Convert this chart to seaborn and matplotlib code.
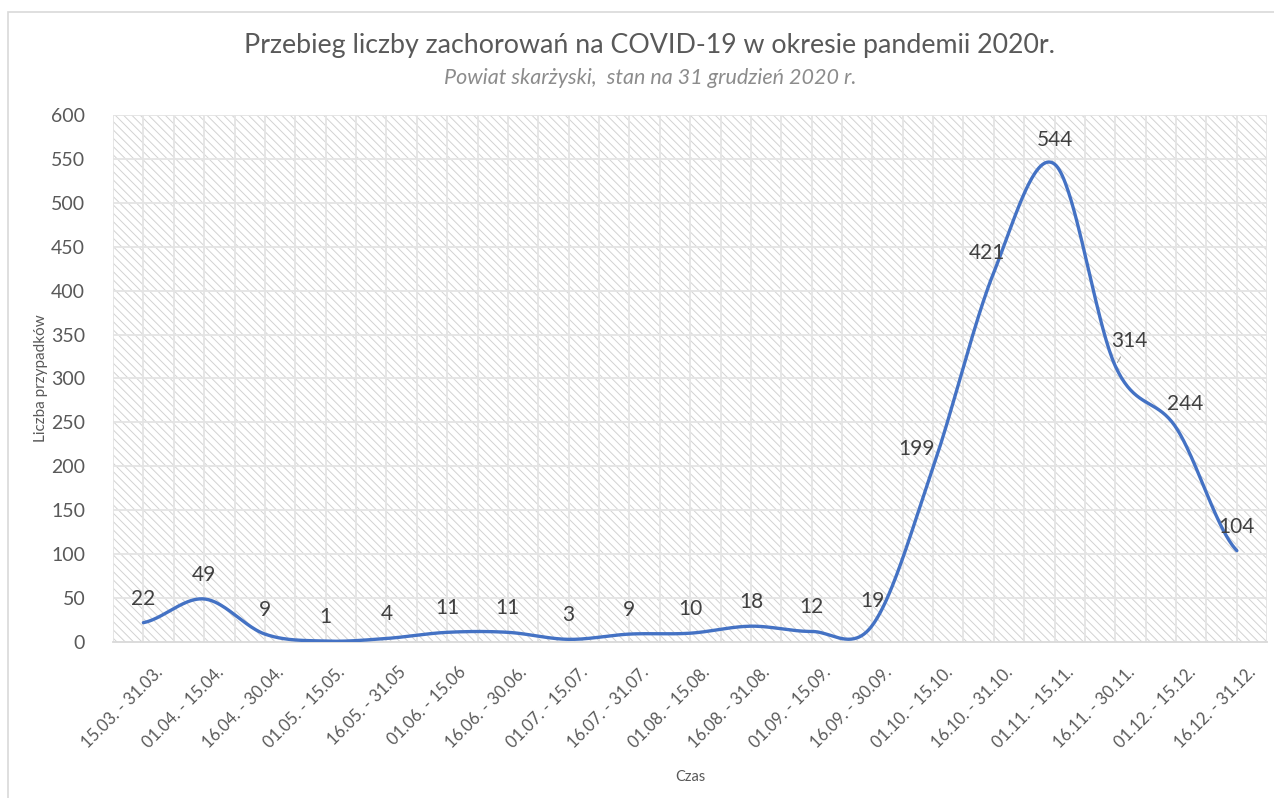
import numpy as np
import pandas as pd
import matplotlib.pyplot as plt
import seaborn as sns
from matplotlib.patches import Rectangle
from matplotlib.transforms import ScaledTranslation

# data
periods = ["15.03. - 31.03.", "01.04. - 15.04.", "16.04. - 30.04.", "01.05. - 15.05.",
           "16.05. - 31.05", "01.06. - 15.06", "16.06. - 30.06.", "01.07. - 15.07.",
           "16.07. - 31.07.", "01.08. - 15.08.", "16.08. - 31.08.", "01.09. - 15.09.",
           "16.09. - 30.09.", "01.10. - 15.10.", "16.10. - 31.10.", "01.11. - 15.11.",
           "16.11. - 30.11.", "01.12. - 15.12.", "16.12. - 31.12."]
cases = [22, 49, 9, 1, 4, 11, 11, 3, 9, 10, 18, 12, 19, 199, 421, 544, 314, 244, 104]
y_ticks = list(range(0, 601, 50))

title = "Przebieg liczby zachorowań na COVID-19 w okresie pandemii 2020r."
subtitle = "Powiat skarżyski,  stan na 31 grudzień 2020 r."

# label nudges (pixels) where the labels were moved by hand in the original
label_shift = {13: (-17, 18), 14: (-7, 19), 16: (14, 25), 17: (9, 24)}


def smooth_curve(vals, steps=40):
    # Catmull-Rom spline, close to Excel's "smoothed line"
    p = np.asarray(vals, dtype=float)
    ext = np.r_[p[0], p, p[-1]]
    xs, ys = [], []
    t = np.linspace(0, 1, steps, endpoint=False)
    for i in range(len(p) - 1):
        p0, p1, p2, p3 = ext[i], ext[i + 1], ext[i + 2], ext[i + 3]
        m1 = (p2 - p0) / 2
        m2 = (p3 - p1) / 2
        h00 = 2 * t**3 - 3 * t**2 + 1
        h10 = t**3 - 2 * t**2 + t
        h01 = -2 * t**3 + 3 * t**2
        h11 = t**3 - t**2
        xs.append(i + t)
        ys.append(h00 * p1 + h10 * m1 + h01 * p2 + h11 * m2)
    xs.append([len(p) - 1])
    ys.append([p[-1]])
    return np.concatenate(xs), np.concatenate(ys)


sns.set_theme(style="white")
plt.rcParams['font.family'] = ['Lato', 'DejaVu Sans']
plt.rcParams['hatch.linewidth'] = 0.7

fig = plt.figure(figsize=(12.74, 7.98), dpi=100)
ax = fig.add_axes([0.0887, 0.1955, 0.906, 0.6604])

# outer chart border (only top and left are inside the picture)
fig.patches.append(Rectangle((8 / 1274, -0.1), 1.2, 1.1 - 12 / 798, transform=fig.transFigure,
                             facecolor='none', edgecolor='#D9D9D9', lw=1.2, zorder=0))

# hatched plot area
ax.add_patch(Rectangle((0, 0), 1, 1, transform=ax.transAxes, facecolor='white',
                       edgecolor='#D2D2D2', hatch='\\\\\\\\', lw=0, zorder=0))

# gridlines: every 50 on y, every half category on x
ax.hlines(y_ticks[1:], -0.5, len(periods) - 0.5, color='#E4E4E4', lw=1.3, zorder=1)
ax.vlines(np.arange(-0.5, len(periods), 0.5), 0, 600, color='#E4E4E4', lw=1.3, zorder=1)

xs, ys = smooth_curve(cases)
curve = pd.DataFrame({'x': xs, 'y': ys})
sns.lineplot(data=curve, x='x', y='y', ax=ax, color='#4472C4', lw=2.4, zorder=3)

for i, v in enumerate(cases):
    dx, dy = label_shift.get(i, (0, 24))
    if i == 16:
        ax.annotate(str(v), (i, v), xytext=(dx, dy), textcoords='offset pixels',
                    ha='center', va='center', fontsize=15, color='#404040', zorder=4,
                    arrowprops=dict(arrowstyle='-', color='#A6A6A6', lw=0.8,
                                    shrinkA=2, shrinkB=3))
    else:
        ax.annotate(str(v), (i, v), xytext=(dx, dy), textcoords='offset pixels',
                    ha='center', va='center', fontsize=15, color='#404040', zorder=4)

ax.set_xlim(-0.5, len(periods) - 0.5)
ax.set_ylim(0, 600)
ax.set_yticks(y_ticks)
ax.set_xticks(range(len(periods)))
ax.tick_params(axis='y', labelsize=14, labelcolor='#595959', length=0, pad=20)
ax.tick_params(axis='x', labelsize=12, labelcolor='#595959', length=0, pad=12)
ax.set_xticklabels(periods, rotation=45, ha='right', va='top', rotation_mode='anchor')
# Excel puts the rotated labels a bit right of the category centre
shift = ScaledTranslation(11 / 100, -5 / 100, fig.dpi_scale_trans)
for lab in ax.get_xticklabels():
    lab.set_transform(lab.get_transform() + shift)
ax.grid(False)
for side in ['top', 'right', 'left']:
    ax.spines[side].set_visible(False)
ax.spines['bottom'].set_color('#D9D9D9')
ax.spines['bottom'].set_linewidth(1.3)
ax.spines['bottom'].set_zorder(2)

ax.set_xlabel('Czas', fontsize=10.5, color='#595959', labelpad=14)
ax.set_ylabel('Liczba przypadków', fontsize=11, color='#595959', labelpad=2)

fig.text(0.51, 0.943, title, ha='center', va='center', fontsize=19.3, color='#595959')
fig.text(0.51, 0.902, subtitle, ha='center', va='center', fontsize=15.5, color='#8C8C8C',
         style='italic')

fig.savefig('out.png', dpi=100)
